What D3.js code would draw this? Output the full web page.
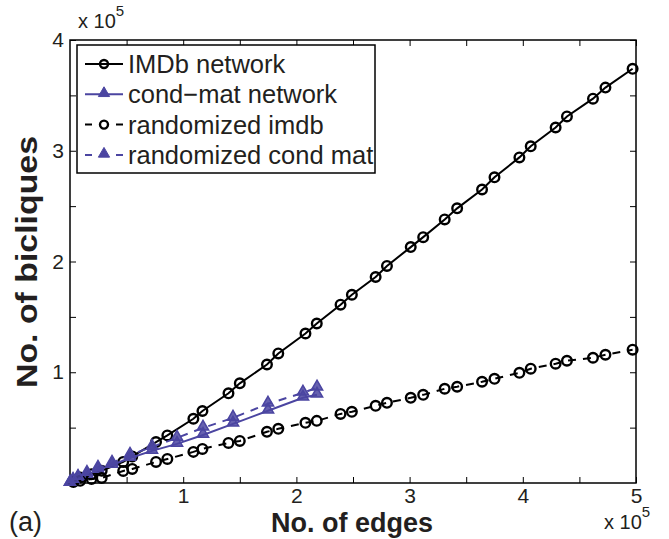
<!DOCTYPE html>
<html>
<head>
<meta charset="utf-8">
<script src="https://cdn.jsdelivr.net/npm/d3@7"></script>
<style>
  body { margin: 0; background: #fff; }
  text { font-family: "Liberation Sans", Arial, Helvetica, sans-serif; fill: #231f20; }
</style>
</head>
<body>
<div id="chart"></div>
<script>
// values in units of 1e5
var imdbEdges = [0.03, 0.09, 0.19, 0.28, 0.47, 0.55, 0.76, 0.86, 1.09, 1.17, 1.40, 1.50, 1.74, 1.84, 2.08, 2.18, 2.39, 2.49, 2.70, 2.80, 3.01, 3.12, 3.31, 3.42, 3.64, 3.75, 3.97, 4.07, 4.29, 4.39, 4.62, 4.73, 4.97];
var imdbBicliques = [0.02, 0.05, 0.08, 0.11, 0.19, 0.24, 0.37, 0.43, 0.58, 0.65, 0.81, 0.90, 1.07, 1.17, 1.35, 1.44, 1.61, 1.70, 1.86, 1.96, 2.13, 2.22, 2.38, 2.48, 2.65, 2.76, 2.94, 3.04, 3.21, 3.31, 3.47, 3.57, 3.74];
var randImdbBicliques = [0.01, 0.02, 0.036, 0.045, 0.109, 0.127, 0.19, 0.217, 0.281, 0.308, 0.362, 0.38, 0.462, 0.489, 0.543, 0.561, 0.624, 0.643, 0.697, 0.724, 0.769, 0.796, 0.851, 0.869, 0.914, 0.941, 0.995, 1.032, 1.077, 1.104, 1.131, 1.158, 1.204];
var condEdges = [0.0, 0.027, 0.071, 0.15, 0.247, 0.371, 0.53, 0.724, 0.945, 1.175, 1.44, 1.749, 2.058, 2.182];
var condBicliques = [0.0, 0.018, 0.045, 0.072, 0.118, 0.163, 0.226, 0.29, 0.353, 0.434, 0.534, 0.652, 0.769, 0.796];
var randCondBicliques = [0.0, 0.027, 0.054, 0.09, 0.136, 0.181, 0.253, 0.326, 0.407, 0.498, 0.588, 0.715, 0.814, 0.86];
var legendLabels = ["IMDb network", "cond\u2212mat network", "randomized imdb", "randomized cond mat"];

var svgWidth = 669, svgHeight = 539;
var purple = "#4b45a1";

var svg = d3.select("#chart").append("svg")
  .attr("width", svgWidth)
  .attr("height", svgHeight);

var x = d3.scaleLinear().domain([0, 5]).range([70, 636]);
var y = d3.scaleLinear().domain([0, 4]).range([483, 40]);

var ticks = d3.range(0.5, 5.01, 0.5);
var yTicks = d3.range(0.5, 4.01, 0.5);
var fmt = d => Number.isInteger(d) ? d : "";

function styleAxis(g) {
  g.select(".domain").remove();
  g.selectAll("line").attr("stroke", "#000").attr("stroke-width", 1);
  g.selectAll("text").attr("font-size", 21).style("font-family", "Liberation Sans, Arial, sans-serif").attr("fill", "#231f20");
}

svg.append("g").attr("transform", "translate(0,483)")
  .call(d3.axisBottom(x).tickValues(ticks).tickFormat(fmt).tickSizeInner(-6).tickPadding(5))
  .call(styleAxis);
svg.append("g").attr("transform", "translate(0,40)")
  .call(d3.axisTop(x).tickValues(ticks).tickFormat("").tickSizeInner(-6))
  .call(styleAxis);
svg.append("g").attr("transform", "translate(70,0)")
  .call(d3.axisLeft(y).tickValues(yTicks).tickFormat(fmt).tickSizeInner(-6).tickPadding(6))
  .call(styleAxis);
svg.append("g").attr("transform", "translate(636,0)")
  .call(d3.axisRight(y).tickValues(yTicks).tickFormat("").tickSizeInner(-6))
  .call(styleAxis);

// frame
svg.append("rect")
  .attr("x", 70).attr("y", 40).attr("width", 636 - 70).attr("height", 483 - 40)
  .attr("fill", "none").attr("stroke", "#000").attr("stroke-width", 1.5);

var line = d3.line().x(d => x(d[0])).y(d => y(d[1]));
var tri = d3.symbol().type(d3.symbolTriangle).size(55);

function drawSeries(xs, ys, color, dashed, marker) {
  var pts = xs.map((v, i) => [v, ys[i]]);
  svg.append("path").datum(pts)
    .attr("d", line)
    .attr("fill", "none")
    .attr("stroke", color)
    .attr("stroke-width", 2)
    .attr("stroke-dasharray", dashed ? "8,7" : null);
  if (marker === "circle") {
    svg.append("g").selectAll("circle").data(pts).enter().append("circle")
      .attr("cx", d => x(d[0])).attr("cy", d => y(d[1]))
      .attr("r", 4.8)
      .attr("fill", "none")
      .attr("stroke", color)
      .attr("stroke-width", 2.4);
  } else {
    svg.append("g").selectAll("path").data(pts).enter().append("path")
      .attr("d", tri)
      .attr("transform", d => `translate(${x(d[0])},${y(d[1]) - 1})`)
      .attr("fill", color)
      .attr("fill-opacity", 0.85)
      .attr("stroke", color)
      .attr("stroke-width", 1.5);
  }
}

drawSeries(imdbEdges, imdbBicliques, "#000", false, "circle");
drawSeries(condEdges, condBicliques, purple, false, "triangle");
drawSeries(imdbEdges, randImdbBicliques, "#000", true, "circle");
drawSeries(condEdges, randCondBicliques, purple, true, "triangle");

// legend
var legend = svg.append("g");
legend.append("rect")
  .attr("x", 77).attr("y", 45).attr("width", 298).attr("height", 128)
  .attr("fill", "#fff").attr("stroke", "#000").attr("stroke-width", 1.5);
var legColors = ["#000", purple, "#000", purple];
var legDash = [false, false, true, true];
var legMarker = ["circle", "triangle", "circle", "triangle"];
legendLabels.forEach(function(lab, i) {
  var ly = 64 + i * 30.3;
  legend.append("line")
    .attr("x1", 85).attr("x2", 123).attr("y1", ly).attr("y2", ly)
    .attr("stroke", legColors[i]).attr("stroke-width", 2)
    .attr("stroke-dasharray", legDash[i] ? "7,24" : null);
  if (legMarker[i] === "circle") {
    legend.append("circle").attr("cx", 104).attr("cy", ly).attr("r", 4)
      .attr("fill", "none").attr("stroke", legColors[i]).attr("stroke-width", 2.4);
  } else {
    legend.append("path").attr("d", tri).attr("transform", `translate(104,${ly - 1})`)
      .attr("fill", legColors[i]).attr("stroke", legColors[i]).attr("stroke-width", 1);
  }
  legend.append("text").attr("x", 128).attr("y", ly + 9)
    .attr("font-size", 25.5).text(lab);
});

// axis titles
svg.append("text")
  .attr("x", 352).attr("y", 532)
  .attr("text-anchor", "middle")
  .attr("font-size", 27).attr("font-weight", "bold")
  .text("No. of edges");
svg.append("text")
  .attr("transform", "translate(37,262) rotate(-90)")
  .attr("text-anchor", "middle")
  .attr("font-size", 30).attr("font-weight", "bold")
  .attr("textLength", 252).attr("lengthAdjust", "spacingAndGlyphs")
  .text("No. of bicliques");

// exponent labels
function expLabel(xp, yp) {
  var t = svg.append("text").attr("x", xp).attr("y", yp).attr("font-size", 20);
  t.append("tspan").text("x 10");
  t.append("tspan").attr("dy", -12).attr("font-size", 15).text("5");
}
expLabel(78, 28);
expLabel(604, 529);

svg.append("text").attr("x", 9).attr("y", 531).attr("font-size", 27).text("(a)");
</script>
</body>
</html>
